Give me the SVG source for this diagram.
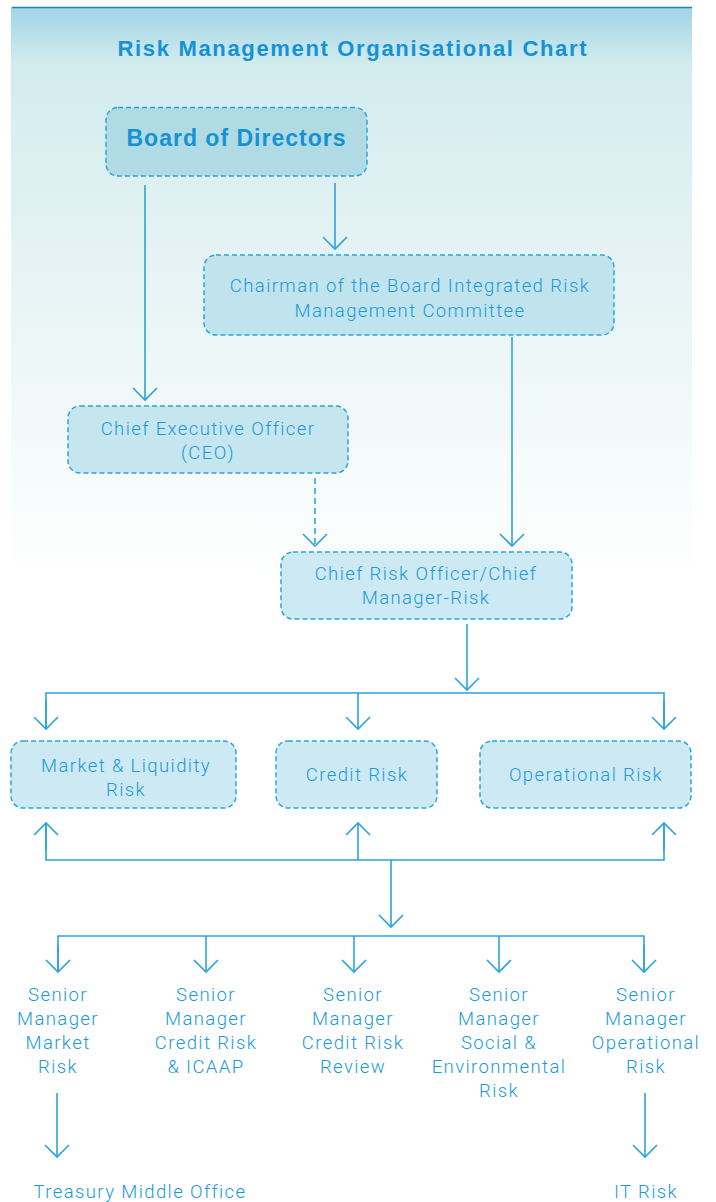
<svg xmlns="http://www.w3.org/2000/svg" width="716" height="1202" viewBox="0 0 716 1202">
<defs>
<linearGradient id="bg" x1="0" y1="0" x2="0" y2="1">
<stop offset="0" stop-color="#a0d4e5"/>
<stop offset="0.1" stop-color="#d3ecee"/>
<stop offset="0.45" stop-color="#e6f3f4"/>
<stop offset="1" stop-color="#ffffff"/>
</linearGradient>
<marker id="ah" viewBox="-14 -14 16 28" markerWidth="16" markerHeight="28" refX="0" refY="0" orient="auto" markerUnits="userSpaceOnUse">
<path d="M-12,-12 L0,0 L-12,12" fill="none" stroke="#2aa4dc" stroke-width="1.6"/>
</marker>
<style>
.box{stroke:#2aa6d8;stroke-width:1.5;stroke-dasharray:5 3}
.t{font-family:Roboto,"Liberation Sans",sans-serif;font-weight:300;font-size:18.5px;fill:#1a9ad8;text-anchor:middle;letter-spacing:1.4px}
.b{font-family:"Liberation Sans",Arial,sans-serif;font-weight:bold;fill:#1592d4;text-anchor:middle}
.ln{fill:none;stroke:#2aa4dc;stroke-width:1.6}
.ar{fill:none;stroke:#2aa4dc;stroke-width:1.6;marker-end:url(#ah)}
</style>
</defs>
<rect x="11" y="7" width="681" height="575" fill="url(#bg)"/>
<line x1="12" y1="7.5" x2="692" y2="7.5" stroke="#1a86b8" stroke-width="1.5"/>
<text class="b" x="352" y="56" font-size="22" textLength="469" lengthAdjust="spacing">Risk Management Organisational Chart</text>

<g id="connectors">
<line class="ar" x1="145" y1="185" x2="145" y2="400"/>
<line class="ar" x1="335" y1="183" x2="335" y2="249"/>
<line class="ar" x1="512" y1="337" x2="512" y2="546"/>
<line class="ar" x1="315" y1="478" x2="315" y2="546" stroke-dasharray="6 4"/>
<line class="ar" x1="467" y1="624" x2="467" y2="690"/>
<polyline class="ln" points="46,729 46,693 664,693 664,729"/>
<line class="ar" x1="46" y1="700" x2="46" y2="729"/>
<line class="ar" x1="358" y1="693" x2="358" y2="729"/>
<line class="ar" x1="664" y1="700" x2="664" y2="729"/>
<polyline class="ln" points="46,823 46,860 664,860 664,823"/>
<line class="ar" x1="46" y1="850" x2="46" y2="823"/>
<line class="ar" x1="358" y1="860" x2="358" y2="823"/>
<line class="ar" x1="664" y1="850" x2="664" y2="823"/>
<line class="ar" x1="391" y1="860" x2="391" y2="927"/>
<polyline class="ln" points="58,972 58,936 644,936 644,972"/>
<line class="ar" x1="58" y1="945" x2="58" y2="972"/>
<line class="ar" x1="206" y1="936" x2="206" y2="972"/>
<line class="ar" x1="354" y1="936" x2="354" y2="972"/>
<line class="ar" x1="499" y1="936" x2="499" y2="972"/>
<line class="ar" x1="644" y1="945" x2="644" y2="972"/>
<line class="ar" x1="57" y1="1093" x2="57" y2="1157"/>
<line class="ar" x1="645" y1="1093" x2="645" y2="1157"/>
</g>

<g id="board">
<rect class="box" x="106" y="107.5" width="261" height="68.5" rx="12" fill="#b0dbe5"/>
<text class="b" x="236" y="146" font-size="23" textLength="219" lengthAdjust="spacing">Board of Directors</text>
</g>
<g id="chairman">
<rect class="box" x="204" y="255" width="410" height="80" rx="12" fill="#c1e3ed"/>
<text class="t" x="410" y="292">Chairman of the Board Integrated Risk</text>
<text class="t" x="410" y="317">Management Committee</text>
</g>
<g id="ceo">
<rect class="box" x="68" y="406" width="280" height="67" rx="12" fill="#c6e6ef"/>
<text class="t" x="208" y="435">Chief Executive Officer</text>
<text class="t" x="208" y="459">(CEO)</text>
</g>
<g id="cro">
<rect class="box" x="281" y="552" width="291" height="67" rx="12" fill="#cde9f3"/>
<text class="t" x="426" y="580">Chief Risk Officer/Chief</text>
<text class="t" x="426" y="604">Manager-Risk</text>
</g>
<g id="market">
<rect class="box" x="11" y="741" width="225" height="67" rx="12" fill="#cde9f4"/>
<text class="t" x="126" y="772">Market &amp; Liquidity</text>
<text class="t" x="126" y="796">Risk</text>
</g>
<g id="credit">
<rect class="box" x="276" y="741" width="161" height="67" rx="12" fill="#cde9f4"/>
<text class="t" x="357" y="781">Credit Risk</text>
</g>
<g id="operational">
<rect class="box" x="480" y="741" width="211" height="67" rx="12" fill="#cde9f4"/>
<text class="t" x="586" y="781">Operational Risk</text>
</g>
<g id="sm-market">
<text class="t" x="58" y="1001">Senior</text>
<text class="t" x="58" y="1025">Manager</text>
<text class="t" x="58" y="1049">Market</text>
<text class="t" x="58" y="1073">Risk</text>
</g>
<g id="sm-credit">
<text class="t" x="206" y="1001">Senior</text>
<text class="t" x="206" y="1025">Manager</text>
<text class="t" x="206" y="1049">Credit Risk</text>
<text class="t" x="206" y="1073">&amp; ICAAP</text>
</g>
<g id="sm-review">
<text class="t" x="353" y="1001">Senior</text>
<text class="t" x="353" y="1025">Manager</text>
<text class="t" x="353" y="1049">Credit Risk</text>
<text class="t" x="353" y="1073">Review</text>
</g>
<g id="sm-social">
<text class="t" x="499" y="1001">Senior</text>
<text class="t" x="499" y="1025">Manager</text>
<text class="t" x="499" y="1049">Social &amp;</text>
<text class="t" x="499" y="1073">Environmental</text>
<text class="t" x="499" y="1097">Risk</text>
</g>
<g id="sm-operational">
<text class="t" x="646" y="1001">Senior</text>
<text class="t" x="646" y="1025">Manager</text>
<text class="t" x="646" y="1049">Operational</text>
<text class="t" x="646" y="1073">Risk</text>
</g>
<g id="treasury">
<text class="t" x="140" y="1198">Treasury Middle Office</text>
</g>
<g id="itrisk">
<text class="t" x="646" y="1198">IT Risk</text>
</g>
</svg>
